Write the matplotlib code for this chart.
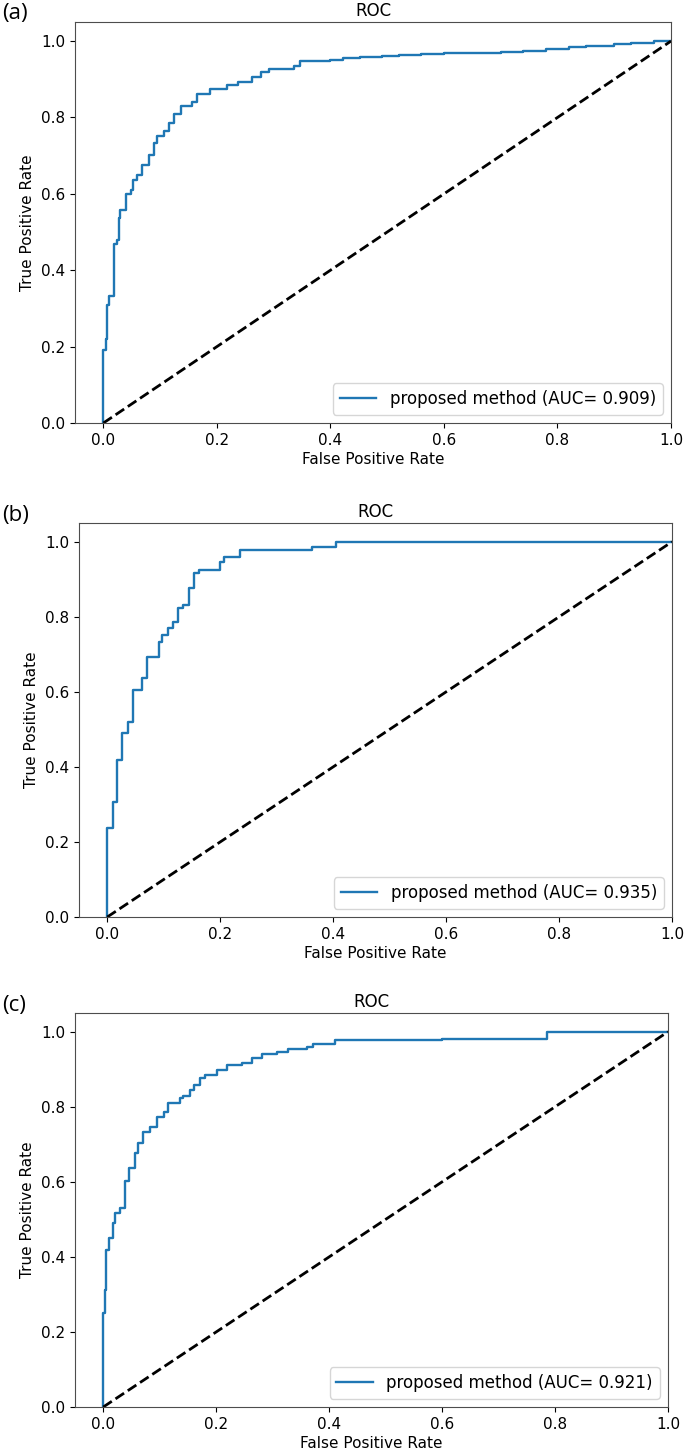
import matplotlib.pyplot as plt

# ROC step points (fpr where each step starts, tpr reached there)
fpr_a = [0.0, 0.004, 0.0065, 0.010, 0.019, 0.024, 0.027, 0.030, 0.039, 0.048,
         0.052, 0.059, 0.068, 0.080, 0.089, 0.094, 0.106, 0.115, 0.124, 0.136,
         0.156, 0.165, 0.188, 0.218, 0.238, 0.262, 0.277, 0.291, 0.335, 0.347,
         0.400, 0.423, 0.452, 0.490, 0.520, 0.560, 0.600, 0.650, 0.700, 0.740,
         0.780, 0.820, 0.850, 0.900, 0.930, 0.970, 1.0]
tpr_a = [0.19, 0.22, 0.31, 0.333, 0.47, 0.48, 0.536, 0.558, 0.60, 0.61,
         0.637, 0.65, 0.676, 0.703, 0.733, 0.751, 0.764, 0.786, 0.808, 0.830,
         0.840, 0.861, 0.875, 0.884, 0.893, 0.905, 0.918, 0.927, 0.936, 0.947,
         0.950, 0.955, 0.958, 0.961, 0.964, 0.966, 0.968, 0.970, 0.972, 0.975,
         0.980, 0.985, 0.988, 0.992, 0.995, 1.0, 1.0]

fpr_b = [0.0, 0.010, 0.017, 0.026, 0.037, 0.045, 0.061, 0.071, 0.091, 0.097,
         0.107, 0.117, 0.126, 0.135, 0.144, 0.153, 0.162, 0.199, 0.206, 0.235,
         0.362, 0.405, 1.0]
tpr_b = [0.237, 0.307, 0.419, 0.490, 0.521, 0.605, 0.636, 0.694, 0.734, 0.752,
         0.770, 0.785, 0.823, 0.832, 0.876, 0.918, 0.925, 0.947, 0.960, 0.979,
         0.986, 1.0, 1.0]

fpr_c = [0.0, 0.0035, 0.005, 0.011, 0.018, 0.021, 0.030, 0.039, 0.045, 0.057,
         0.062, 0.071, 0.083, 0.095, 0.107, 0.114, 0.136, 0.142, 0.154, 0.160,
         0.172, 0.181, 0.201, 0.219, 0.245, 0.263, 0.281, 0.307, 0.328, 0.361,
         0.372, 0.411, 0.600, 0.785, 1.0]
tpr_c = [0.25, 0.312, 0.419, 0.450, 0.490, 0.518, 0.530, 0.601, 0.637, 0.677,
         0.703, 0.734, 0.747, 0.774, 0.787, 0.811, 0.823, 0.829, 0.845, 0.859,
         0.876, 0.885, 0.899, 0.912, 0.917, 0.930, 0.941, 0.947, 0.954, 0.960,
         0.968, 0.977, 0.980, 1.0, 1.0]

panel_labels = ['(a)', '(b)', '(c)']
auc_values = [0.909, 0.935, 0.921]

W, H = 685, 1455
# axes boxes in pixels: left, top, right, bottom
boxes = [(75, 22, 671, 423), (79, 523, 672, 917), (75, 1013, 668, 1407)]


def main():
    fig = plt.figure(figsize=(W / 100, H / 100), dpi=100)
    curves = [(fpr_a, tpr_a), (fpr_b, tpr_b), (fpr_c, tpr_c)]

    for (fpr, tpr), lab, auc, (l, t, r, b) in zip(curves, panel_labels,
                                                  auc_values, boxes):
        ax = fig.add_axes([l / W, 1 - b / H, (r - l) / W, (b - t) / H])
        ax.step([0.0] + fpr, [0.0] + tpr, where='post', color='#1f77b4',
                lw=1.7, label=f'proposed method (AUC= {auc})')
        ax.plot([0, 1], [0, 1], color='black', lw=2, linestyle='--')
        ax.set_xlim(-0.05, 1.0)
        ax.set_ylim(0.0, 1.05)
        ax.set_xticks([0.0, 0.2, 0.4, 0.6, 0.8, 1.0])
        ax.set_yticks([0.0, 0.2, 0.4, 0.6, 0.8, 1.0])
        ax.tick_params(labelsize=11)
        for s in ax.spines.values():
            s.set_color('0.3')
        ax.set_xlabel('False Positive Rate', fontsize=11, labelpad=3)
        ax.set_ylabel('True Positive Rate', fontsize=11, labelpad=4)
        ax.set_title('ROC', fontsize=12, pad=4)
        ax.legend(loc='lower right', fontsize=12, handlelength=2.2,
                  borderpad=0.4)
        fig.text(2 / W, 1 - (t - 8) / H, lab, fontsize=16,
                 family=['Open Sans', 'DejaVu Sans'], va='center', ha='left')

    fig.savefig('out.png', dpi=100)


if __name__ == '__main__':
    main()
